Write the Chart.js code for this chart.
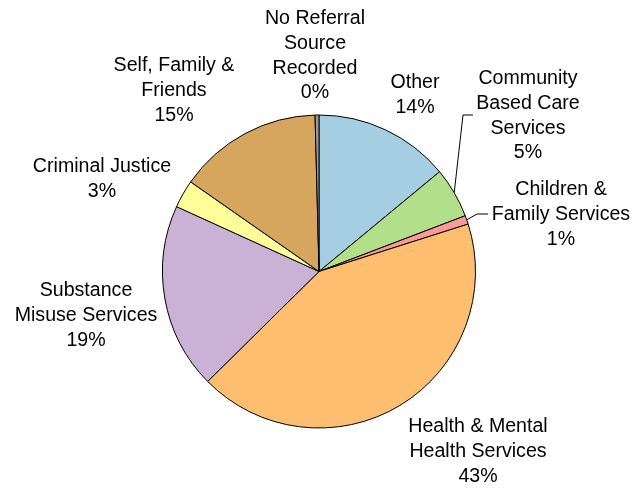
<!DOCTYPE html>
<html>
<head>
<meta charset="utf-8">
<script src="https://cdn.jsdelivr.net/npm/chart.js@4.4.1/dist/chart.umd.min.js"></script>
<style>
  html, body { margin: 0; padding: 0; background: #fff; }
  #wrap { width: 633px; height: 489px; position: relative; }
</style>
</head>
<body>
<div id="wrap"><canvas id="pie"></canvas></div>
<script>
// referral sources, clockwise from 12 o'clock
const categories = [
  'Other',
  'Community Based Care Services',
  'Children & Family Services',
  'Health & Mental Health Services',
  'Substance Misuse Services',
  'Criminal Justice',
  'Self, Family & Friends',
  'No Referral Source Recorded'
];
const shares = [14.0, 5.2, 0.9, 42.5, 19.2, 2.9, 14.9, 0.4];
const labelLines = [
  ['Other'],
  ['Community', 'Based Care', 'Services'],
  ['Children &', 'Family Services'],
  ['Health & Mental', 'Health Services'],
  ['Substance', 'Misuse Services'],
  ['Criminal Justice'],
  ['Self, Family &', 'Friends'],
  ['No Referral', 'Source', 'Recorded']
];
const sliceColors = [
  '#A6CEE3', '#B2DF8A', '#FB9A99', '#FDBF6F',
  '#CAB2D6', '#FFFF99', '#D6A65E', '#9A9A9A'
];

// label block placement (centre x, first line y) and optional leader elbow
const labelLayout = [
  { x: 415, y: 83 },
  { x: 528, y: 79, elbow: [463, 115], end: [473, 115] },
  { x: 561, y: 190, elbow: [477, 214], end: [488, 214] },
  { x: 478, y: 427 },
  { x: 86, y: 291 },
  { x: 102, y: 167 },
  { x: 174, y: 66 },
  { x: 315, y: 19 }
];

const FONT = '19.6px "Liberation Sans", Arial, sans-serif';
const LINE_H = 24.6;

const outsideLabels = {
  id: 'outsideLabels',
  afterDatasetsDraw(chart) {
    const ctx = chart.ctx;
    const arcs = chart.getDatasetMeta(0).data;
    const total = shares.reduce((a, b) => a + b, 0);
    ctx.save();
    ctx.font = FONT;
    ctx.fillStyle = '#000';
    ctx.textAlign = 'center';
    ctx.textBaseline = 'middle';
    labelLines.forEach((lines, i) => {
      const pos = labelLayout[i];
      // toFixed guards against 42.4999… from float sums
      const pct = Math.round(+(shares[i] / total * 100).toFixed(6)) + '%';
      lines.concat([pct]).forEach((t, k) => {
        ctx.fillText(t, pos.x, pos.y + k * LINE_H);
      });
      if (pos.elbow) {
        const a = arcs[i];
        const mid = (a.startAngle + a.endAngle) / 2;
        const sx = a.x + Math.cos(mid) * a.outerRadius;
        const sy = a.y + Math.sin(mid) * a.outerRadius;
        ctx.beginPath();
        ctx.strokeStyle = '#000';
        ctx.lineWidth = 1;
        ctx.moveTo(sx, sy);
        ctx.lineTo(pos.elbow[0], pos.elbow[1]);
        ctx.lineTo(pos.end[0], pos.end[1]);
        ctx.stroke();
      }
    });
    ctx.restore();
  }
};

new Chart(document.getElementById('pie'), {
  type: 'pie',
  data: {
    labels: categories,
    datasets: [{
      data: shares,
      backgroundColor: sliceColors,
      borderColor: '#000',
      borderWidth: 1
    }]
  },
  options: {
    responsive: true,
    maintainAspectRatio: false,
    animation: false,
    layout: { padding: { top: 114, bottom: 60, left: 162, right: 157 } },
    plugins: {
      legend: { display: false },
      tooltip: { enabled: false }
    }
  },
  plugins: [outsideLabels]
});
</script>
</body>
</html>
